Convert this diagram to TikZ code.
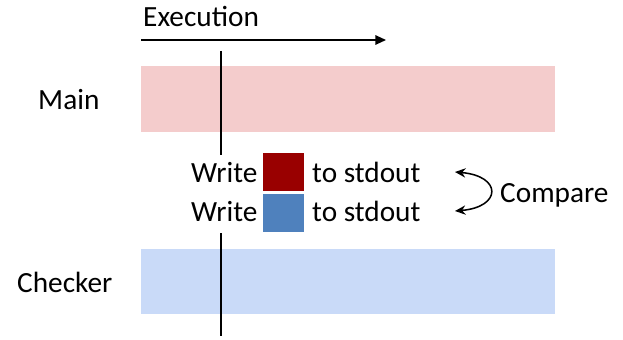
\documentclass[tikz,border=0pt]{standalone}
\usepackage{fontspec}
\setmainfont{Carlito}
\usetikzlibrary{arrows.meta, positioning}
\definecolor{mainband}{RGB}{244,204,204}
\definecolor{checkband}{RGB}{201,218,248}
\definecolor{outred}{RGB}{153,0,0}
\definecolor{outblue}{RGB}{79,129,189}

\begin{document}
\begin{tikzpicture}[x=0.03cm, y=-0.03cm, font=\fontsize{25}{30}\selectfont,
    lbl/.style={anchor=base west, inner sep=0pt},
    band/.style={fill=#1, draw=none},
    swatch/.style={fill=#1, draw=none, minimum width=41*0.03cm, minimum height=38*0.03cm, inner sep=0pt}]
    \useasboundingbox (0,0) rectangle (623,339);

    % the two process bands
    \fill[band=mainband] (141,66) rectangle (555,132);
    \fill[band=checkband] (141,249) rectangle (555,314);
    \node[lbl] (main) at (38,109) {Main};
    \node[lbl] (checker) at (17,292) {Checker};

    % time axis
    \node[lbl] (exec) at (143,27) {Execution};
    \coordinate (t0) at (141,40);
    \coordinate (t1) at (386,40);
    \draw[line width=1.3pt, -{Triangle[length=9pt, width=8pt]}] (t0) -- (t1);

    % current point of execution
    \coordinate (c0) at (221,51);
    \coordinate (c1) at (221,155);
    \coordinate (c2) at (221,233);
    \coordinate (c3) at (221,336);
    \draw[line width=1.6pt] (c0) -- (c1);
    \draw[line width=1.6pt] (c2) -- (c3);

    % outputs written by each side
    \node[lbl] (w1) at (191,182) {Write};
    \node[swatch=outred] (s1) at (283.5,172) {};
    \node[lbl] (o1) at (312,182) {to stdout};
    \node[lbl] (w2) at (191,221) {Write};
    \node[swatch=outblue] (s2) at (283.5,212.5) {};
    \node[lbl] (o2) at (312,221) {to stdout};

    \coordinate (a1) at (455,172);
    \coordinate (a2) at (455,211);
    \draw[line width=1.3pt, {Stealth[length=9pt, width=8pt, inset=3pt]}-{Stealth[length=9pt, width=8pt, inset=3pt]}]
        (a1) .. controls (502,176) and (502,207) .. (a2);
    \node[lbl] (cmp) at (500,202) {Compare};
\end{tikzpicture}
\end{document}
